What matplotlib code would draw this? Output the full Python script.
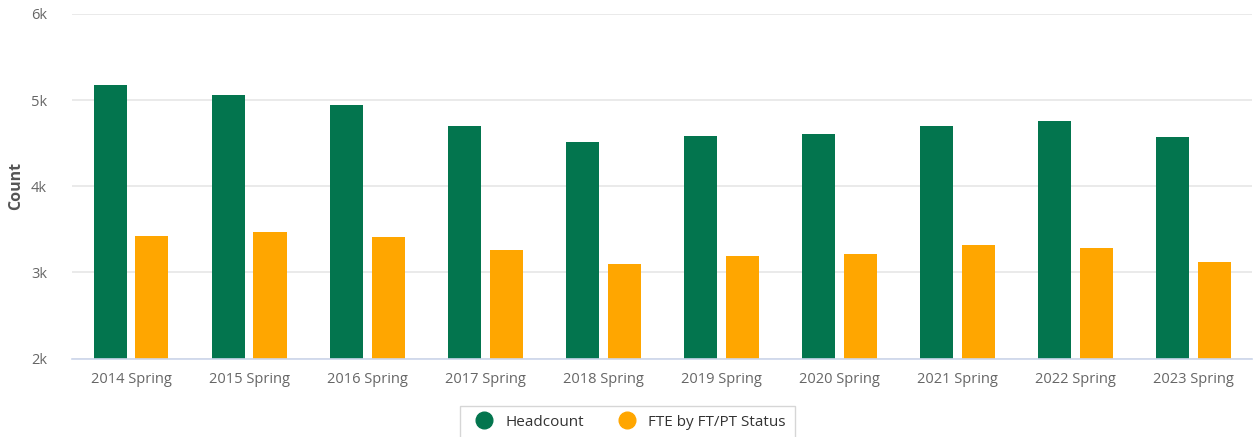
import numpy as np
import matplotlib.pyplot as plt
from matplotlib.ticker import FuncFormatter

plt.rcParams['font.family'] = ['Open Sans', 'DejaVu Sans']

# data
terms = ["2014 Spring", "2015 Spring", "2016 Spring", "2017 Spring", "2018 Spring",
         "2019 Spring", "2020 Spring", "2021 Spring", "2022 Spring", "2023 Spring"]
headcount = [5173, 5064, 4941, 4697, 4511, 4584, 4604, 4697, 4755, 4569]
fte = [3426, 3473, 3411, 3257, 3101, 3190, 3210, 3318, 3287, 3117]

green = "#03754e"
orange = "#ffa600"

fig = plt.figure(figsize=(12.55, 4.37), dpi=100)
ax = fig.add_axes([0.0574, 0.1796, 0.9406, 0.7884])

x = np.arange(len(terms))
w = 0.28
gap = 0.074
ax.bar(x - (w + gap) / 2, headcount, width=w, color=green, label="Headcount",
       zorder=3)
ax.bar(x + (w + gap) / 2, fte, width=w, color=orange, label="FTE by FT/PT Status",
       zorder=3)

ax.set_xlim(-0.5, len(terms) - 0.5)
ax.set_ylim(2000, 6000)
ax.set_yticks([2000, 3000, 4000, 5000, 6000])
ax.yaxis.set_major_formatter(FuncFormatter(lambda v, p: f"{int(v/1000)}k"))
ax.set_xticks(x)
ax.set_xticklabels(terms)

ax.grid(axis="y", color="#e6e6e6", linewidth=1.2, zorder=0)
for s in ["top", "right", "left"]:
    ax.spines[s].set_visible(False)
ax.spines["bottom"].set_color("#ccd6eb")
ax.spines["bottom"].set_linewidth(1.2)
ax.spines["bottom"].set_zorder(4)

ax.tick_params(axis="both", length=0, labelsize=10.5, labelcolor="#666666")
ax.tick_params(axis="x", pad=10)
ax.tick_params(axis="y", pad=18)

ax.set_ylabel("Count", fontsize=11.5, fontweight="bold", color="#555555")
ax.yaxis.set_label_coords(-0.041, 0.5)

handles = [
    plt.Line2D([], [], marker="o", linestyle="", markersize=12, color=green),
    plt.Line2D([], [], marker="o", linestyle="", markersize=12, color=orange),
]
fig.legend(handles, ["Headcount", "FTE by FT/PT Status"], loc="upper center",
           bbox_to_anchor=(0.5, 1 - 398 / 437), ncol=2, frameon=True,
           fancybox=False, edgecolor="#cccccc", fontsize=11, handletextpad=0.4,
           columnspacing=1.8, borderpad=0.6, labelcolor="#333333")

fig.savefig("out.png", dpi=100)
